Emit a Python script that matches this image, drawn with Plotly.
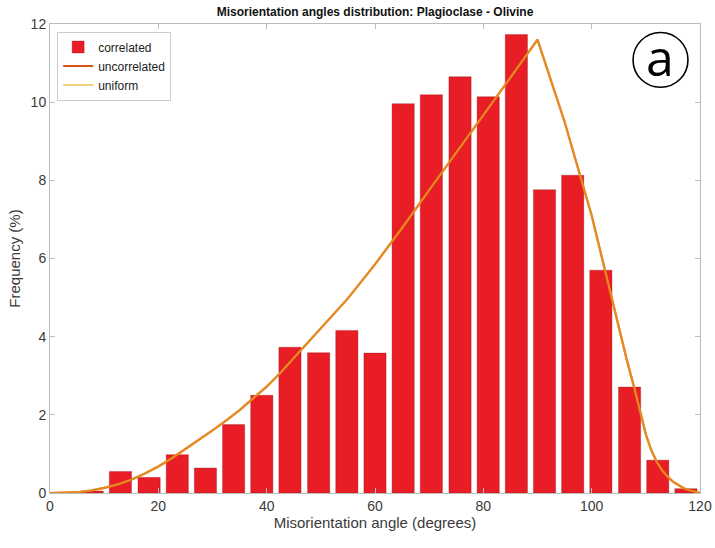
import plotly.graph_objects as go

# Histogram bins (degrees) and observed frequencies (%)
bin_centers = [7.8, 13.0, 18.3, 23.5, 28.7, 33.9, 39.1, 44.3, 49.6, 54.8, 60.0,
               65.2, 70.4, 75.7, 80.9, 86.1, 91.3, 96.5, 101.7, 107.0, 112.2, 117.4]
correlated = [0.05, 0.55, 0.40, 0.98, 0.64, 1.75, 2.50, 3.73, 3.59, 4.16, 3.58,
              9.96, 10.19, 10.65, 10.14, 11.73, 7.76, 8.13, 5.70, 2.71, 0.84, 0.11]

# Theoretical random-pair distributions
curve_angle = [0, 2.5, 5, 7.5, 10, 12.5, 15, 17.5, 20, 22.5, 25, 27.5, 30, 32.5, 35,
               37.5, 40, 42.5, 45, 50, 55, 60, 65, 70, 75, 80, 85, 90, 95, 100, 105,
               106.5, 108, 109, 110, 111, 112, 113, 114, 115, 116, 117, 118, 119, 120]
uncorrelated = [0, 0.005, 0.02, 0.06, 0.13, 0.22, 0.34, 0.50, 0.68, 0.89, 1.12, 1.35,
                1.60, 1.85, 2.12, 2.42, 2.72, 3.07, 3.45, 4.20, 4.98, 5.85, 6.78, 7.75,
                8.70, 9.67, 10.63, 11.60, 9.50, 7.10, 4.20, 3.40, 2.62, 2.05, 1.50, 1.10,
                0.80, 0.58, 0.42, 0.29, 0.20, 0.12, 0.07, 0.03, 0.0]
uniform = list(uncorrelated)

x_ticks = [0, 20, 40, 60, 80, 100, 120]
y_ticks = [0, 2, 4, 6, 8, 10, 12]

font_main = "Liberation Sans, Arial, sans-serif"
axis_grey = "#bdbdbd"
text_grey = "#3a3a3a"

fig = go.Figure()
fig.add_trace(go.Bar(
    x=bin_centers, y=correlated, name="correlated",
    marker=dict(color="#e81d25", line=dict(color="rgba(140,20,20,0.55)", width=0.6)),
    width=4.1,
))
fig.add_trace(go.Scatter(
    x=curve_angle, y=uncorrelated, name="uncorrelated", mode="lines",
    line=dict(color="#d95319", width=2.2),
))
fig.add_trace(go.Scatter(
    x=curve_angle, y=uniform, name="uniform", mode="lines",
    line=dict(color="#edb120", width=2.2), opacity=0.6,
))

axis_common = dict(
    showgrid=False, zeroline=False, showline=True, linecolor=axis_grey, linewidth=1,
    mirror="ticks", ticks="inside", ticklen=5, tickcolor=axis_grey, tickwidth=1,
    tickfont=dict(family=font_main, size=14, color=text_grey), automargin=False,
)

fig.update_layout(
    width=715, height=548,
    margin=dict(l=50, r=15, t=24, b=55),
    paper_bgcolor="white", plot_bgcolor="white",
    title=dict(text="<b>Misorientation angles distribution: Plagioclase - Olivine</b>",
               x=0.5245, xanchor="center", y=0.978, yanchor="middle",
               font=dict(family=font_main, size=12, color="#111111")),
    xaxis=dict(range=[0, 120], tickvals=x_ticks,
               title=dict(text="Misorientation angle (degrees)", standoff=4,
                          font=dict(family=font_main, size=15, color=text_grey)),
               **axis_common),
    yaxis=dict(range=[0, 12], tickvals=y_ticks,
               title=dict(text="Frequency (%)", standoff=6,
                          font=dict(family=font_main, size=15, color=text_grey)),
               **axis_common),
    showlegend=True,
    legend=dict(x=0.011, y=0.984, xanchor="left", yanchor="top",
                bgcolor="white", bordercolor="#cccccc", borderwidth=1,
                font=dict(family=font_main, size=12, color="#222222"),
                itemwidth=30, tracegroupgap=0),
    bargap=0.2,
)

# Panel label: circled "a"
fig.add_shape(type="circle", xref="paper", yref="paper",
              x0=0.897, x1=0.9815, y0=0.865, y1=0.982,
              line=dict(color="black", width=1.6))
fig.add_annotation(text="a", xref="paper", yref="paper", x=0.939, y=0.93,
                   xanchor="center", yanchor="middle", showarrow=False,
                   font=dict(family="Open Sans, sans-serif", size=50, color="black"))

fig.write_html("out.html")
